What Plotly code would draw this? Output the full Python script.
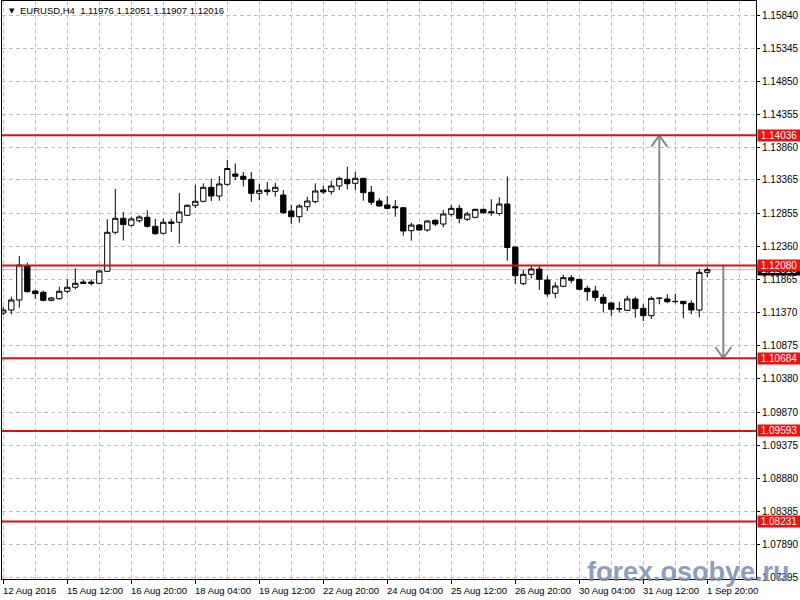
import plotly.graph_objects as go

# ---------------- data (EURUSD H4 candles, index 0 = 12 Aug 2016 04:00) ----------------
opens = [1.11365, 1.11410, 1.11561, 1.12076, 1.11696, 1.11677, 1.11556, 1.11580, 1.11692, 1.11752,
         1.11831, 1.11831, 1.11812, 1.11992, 1.12579, 1.12789, 1.12684, 1.12753, 1.12804, 1.12669,
         1.12564, 1.12734, 1.12729, 1.12834, 1.12985, 1.13045, 1.13255, 1.13124, 1.13300, 1.13455,
         1.13421, 1.13375, 1.13165, 1.13215, 1.13195, 1.13139, 1.12899, 1.12813, 1.12963, 1.13039,
         1.13215, 1.13189, 1.13275, 1.13375, 1.13315, 1.13390, 1.13180, 1.13049, 1.12989, 1.12963,
         1.12948, 1.12603, 1.12688, 1.12613, 1.12759, 1.12703, 1.12849, 1.12939, 1.12774, 1.12804,
         1.12924, 1.12888, 1.12861, 1.13004, 1.12358, 1.11806, 1.11947, 1.12027, 1.11861, 1.11662,
         1.11767, 1.11896, 1.11872, 1.11737, 1.11696, 1.11601, 1.11516, 1.11425, 1.11406, 1.11576,
         1.11436, 1.11325, 1.11583, 1.11576, 1.11541, 1.11541, 1.11511, 1.11410, 1.11976]
highs = [1.11456, 1.11610, 1.12222, 1.12122, 1.11711, 1.11701, 1.11606, 1.11761, 1.11872, 1.12037,
         1.11872, 1.11872, 1.12012, 1.12774, 1.13230, 1.12884, 1.12813, 1.12834, 1.12909, 1.12779,
         1.12789, 1.12783, 1.13169, 1.12997, 1.13294, 1.13315, 1.13384, 1.13425, 1.13666, 1.13613,
         1.13485, 1.13485, 1.13309, 1.13335, 1.13324, 1.13215, 1.12989, 1.13000, 1.13114, 1.13315,
         1.13275, 1.13354, 1.13415, 1.13565, 1.13485, 1.13395, 1.13275, 1.13090, 1.13124, 1.13064,
         1.12951, 1.12723, 1.12703, 1.12763, 1.12774, 1.12914, 1.12989, 1.12989, 1.12888, 1.12933,
         1.12933, 1.13076, 1.13105, 1.13415, 1.12358, 1.12012, 1.12076, 1.12072, 1.11922, 1.11827,
         1.11941, 1.11937, 1.11877, 1.11776, 1.11776, 1.11651, 1.11535, 1.11535, 1.11625, 1.11610,
         1.11496, 1.11616, 1.11601, 1.11646, 1.11656, 1.11546, 1.11556, 1.12027, 1.12051]
lows = [1.11335, 1.11346, 1.11445, 1.11671, 1.11580, 1.11541, 1.11541, 1.11565, 1.11662, 1.11722,
        1.11801, 1.11782, 1.11801, 1.11982, 1.12549, 1.12455, 1.12663, 1.12723, 1.12648, 1.12543,
        1.12549, 1.12583, 1.12407, 1.12824, 1.12944, 1.13030, 1.13049, 1.13054, 1.13279, 1.13365,
        1.13267, 1.13034, 1.13064, 1.13135, 1.13114, 1.12858, 1.12703, 1.12723, 1.12899, 1.13015,
        1.13154, 1.13144, 1.13215, 1.13225, 1.13215, 1.13054, 1.12989, 1.12963, 1.12924, 1.12813,
        1.12527, 1.12452, 1.12598, 1.12588, 1.12673, 1.12654, 1.12813, 1.12714, 1.12748, 1.12789,
        1.12854, 1.12828, 1.12828, 1.12152, 1.11801, 1.11786, 1.11887, 1.11711, 1.11610, 1.11586,
        1.11752, 1.11812, 1.11711, 1.11550, 1.11546, 1.11373, 1.11320, 1.11376, 1.11395, 1.11295,
        1.11245, 1.11275, 1.11496, 1.11511, 1.11511, 1.11286, 1.11346, 1.11301, 1.11907]
closes = [1.11410, 1.11561, 1.12087, 1.11686, 1.11656, 1.11556, 1.11591, 1.11692, 1.11752, 1.11812,
          1.11812, 1.11812, 1.11997, 1.12579, 1.12789, 1.12696, 1.12779, 1.12809, 1.12669, 1.12558,
          1.12729, 1.12714, 1.12884, 1.12985, 1.13045, 1.13255, 1.13124, 1.13305, 1.13538, 1.13421,
          1.13375, 1.13165, 1.13210, 1.13189, 1.13255, 1.12873, 1.12813, 1.12974, 1.13049, 1.13200,
          1.13185, 1.13275, 1.13390, 1.13309, 1.13390, 1.13174, 1.13030, 1.12974, 1.12939, 1.12948,
          1.12598, 1.12688, 1.12613, 1.12748, 1.12703, 1.12854, 1.12939, 1.12789, 1.12854, 1.12924,
          1.12873, 1.12873, 1.13004, 1.12350, 1.11926, 1.11947, 1.12027, 1.11872, 1.11651, 1.11771,
          1.11896, 1.11857, 1.11722, 1.11686, 1.11598, 1.11511, 1.11421, 1.11430, 1.11576, 1.11430,
          1.11325, 1.11586, 1.11588, 1.11535, 1.11537, 1.11505, 1.11410, 1.11977, 1.12016]

date_labels = ["12 Aug 2016", "15 Aug 12:00", "16 Aug 20:00", "18 Aug 04:00", "19 Aug 12:00",
               "22 Aug 20:00", "24 Aug 04:00", "25 Aug 12:00", "26 Aug 20:00", "30 Aug 04:00",
               "31 Aug 12:00", "1 Sep 20:00"]
candles_per_label = 8

price_ticks = [1.15840, 1.15345, 1.14850, 1.14355, 1.13860, 1.13365, 1.12855, 1.12360, 1.11865,
               1.11370, 1.10875, 1.10380, 1.09870, 1.09375, 1.08880, 1.08385, 1.07890, 1.07395]

levels = [1.14036, 1.12080, 1.10684, 1.09593, 1.08231]
symbol = "EURUSD,H4"
# arrows: (candle index, from level, to level)
arrows = [(82, 1.12080, 1.14036), (90, 1.12080, 1.10684)]
watermark = "forex.osobye.ru"

# ---------------- figure ----------------
n = len(opens)
xs = list(range(n))
label_pos = [k * candles_per_label for k in range(len(date_labels))]
minor_pos = [p + candles_per_label // 2 for p in label_pos]

FONT = "Liberation Sans, Arial, sans-serif"
GRID = "#C0C0C0"

fig = go.Figure()

# bid line (last close)
fig.add_shape(type="line", xref="paper", x0=0, x1=1, y0=closes[-1], y1=closes[-1],
              line=dict(color="#B4B4B4", width=1), layer="below")

fig.add_trace(go.Candlestick(
    x=xs, open=opens, high=highs, low=lows, close=closes,
    increasing=dict(line=dict(color="black", width=1), fillcolor="white"),
    decreasing=dict(line=dict(color="black", width=1), fillcolor="black"),
    whiskerwidth=0, hoverinfo="skip", showlegend=False,
))

# level lines
for lv in levels:
    fig.add_shape(type="line", xref="paper", x0=0, x1=1, y0=lv, y1=lv,
                  line=dict(color="#E01010", width=2))

# arrows
for ax_i, y_from, y_to in arrows:
    d = 0.0017 if y_to > y_from else -0.0017
    fig.add_trace(go.Scatter(
        x=[ax_i, ax_i, None, ax_i - 1, ax_i, ax_i + 1],
        y=[y_from, y_to, None, y_to - d, y_to, y_to - d],
        mode="lines", line=dict(color="#888888", width=2),
        hoverinfo="skip", showlegend=False))

annotations = []
# header
annotations.append(dict(xref="paper", yref="paper", x=0, y=1, xanchor="left", yanchor="top",
                        xshift=5, yshift=-4, text="\u25BC", showarrow=False,
                        font=dict(family="DejaVu Sans", size=7, color="black")))
hdr = symbol + "\u00a0\u00a0" + " ".join(f"{v:.5f}" for v in
                                          (opens[-1], highs[-1], lows[-1], closes[-1]))
annotations.append(dict(xref="paper", yref="paper", x=0, y=1, xanchor="left", yanchor="top",
                        xshift=16, yshift=-2, text=hdr, showarrow=False,
                        font=dict(family=FONT, size=9.5, color="black")))
# bid price box (behind red ones)
annotations.append(dict(xref="paper", yref="y", x=1, y=closes[-1], xanchor="left", yanchor="middle",
                        xshift=1, text=f"{closes[-1]:.5f}", showarrow=False, bgcolor="black",
                        width=42, height=11, borderpad=0,
                        font=dict(family=FONT, size=10, color="white")))
for lv in levels:
    annotations.append(dict(xref="paper", yref="y", x=1, y=lv, xanchor="left", yanchor="middle",
                            xshift=1, text=f"{lv:.5f}", showarrow=False, bgcolor="#F01010",
                            width=42, height=11, borderpad=0,
                            font=dict(family=FONT, size=10, color="white")))
# date labels (left aligned at tick)
for p, t in zip(label_pos, date_labels):
    annotations.append(dict(xref="x", yref="paper", x=p, y=0, xanchor="left", yanchor="top",
                            xshift=-2, yshift=-4, text=t, showarrow=False,
                            font=dict(family=FONT, size=9.5, color="black")))
# watermark
annotations.append(dict(xref="paper", yref="paper", x=0.911, y=0.012, xanchor="center",
                        yanchor="middle", text=f"<b>{watermark}</b>", showarrow=False,
                        font=dict(family=FONT, size=27, color="rgba(120,140,178,0.85)")))

fig.update_layout(
    width=800, height=600,
    margin=dict(l=2, r=44, t=1, b=21, pad=0),
    paper_bgcolor="white", plot_bgcolor="white",
    boxgap=0.34, boxgroupgap=0,
    showlegend=False,
    annotations=annotations,
    xaxis=dict(
        type="linear", range=[-0.1625, 94.0875], rangeslider=dict(visible=False),
        tickvals=label_pos, showticklabels=False, ticks="outside", ticklen=4, tickcolor="black",
        showgrid=True, gridcolor=GRID, griddash="4px,3px", gridwidth=1,
        minor=dict(tickvals=minor_pos, showgrid=True, gridcolor=GRID, griddash="4px,3px", ticks=""),
        showline=True, mirror=True, linecolor="black", linewidth=1, zeroline=False, fixedrange=True,
    ),
    yaxis=dict(
        side="right", range=[1.073663, 1.160560], tickvals=price_ticks, tickformat=".5f",
        ticks="outside", ticklen=3, tickcolor="black",
        tickfont=dict(family=FONT, size=10, color="black"),
        showgrid=True, gridcolor=GRID, griddash="4px,3px", gridwidth=1,
        showline=True, mirror=True, linecolor="black", linewidth=1, zeroline=False, fixedrange=True,
    ),
)

fig.write_html(
    "out.html",
    config={"displayModeBar": False, "staticPlot": True},
    post_script="document.body.style.margin='0px';document.body.style.overflow='hidden';",
)
